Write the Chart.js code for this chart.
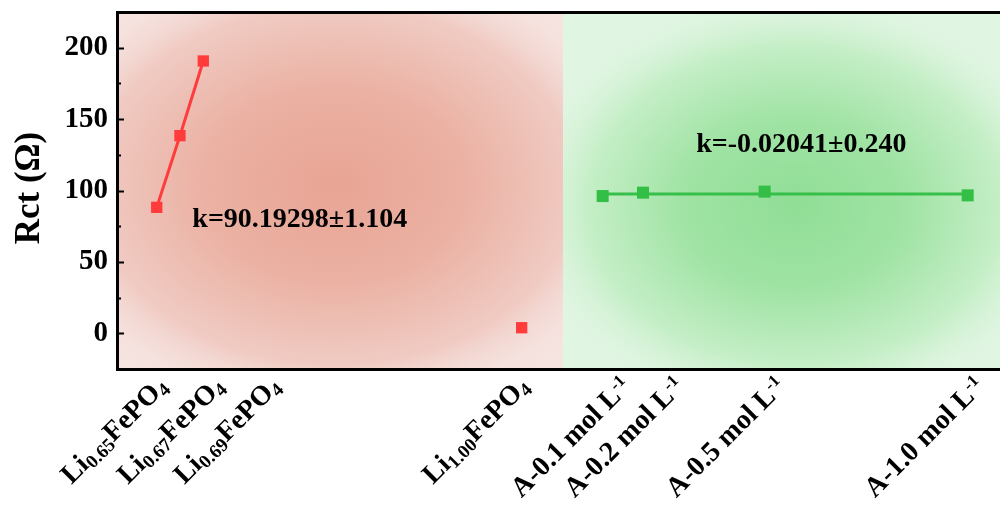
<!DOCTYPE html>
<html>
<head>
<meta charset="utf-8">
<script src="https://cdn.jsdelivr.net/npm/chart.js@4.4.1/dist/chart.umd.min.js"></script>
<style>
  html, body { margin: 0; padding: 0; background: #fff; overflow: hidden; }
  canvas { display: block; }
</style>
</head>
<body>
<canvas id="c" width="1000" height="506"></canvas>
<script>
// Sample names (with _{sub} and ^{sup} markup), where each name sits on the x axis,
// and where each measured sample is plotted
const sampleLabels = [
  'Li_{0.65}FePO_{4}', 'Li_{0.67}FePO_{4}', 'Li_{0.69}FePO_{4}', 'Li_{1.00}FePO_{4}',
  'A-0.1 mol L^{-1}', 'A-0.2 mol L^{-1}', 'A-0.5 mol L^{-1}', 'A-1.0 mol L^{-1}'
];
const labelX  = [4.3, 10.72, 17.1, 45.26, 56.8, 62.83, 74.33, 96.83];
const sampleX = [4.5, 7.13, 9.77, 45.83, 55.0, 59.57, 73.35, 96.34];

// Charge-transfer resistance, Ohm
const liRct = [88.2, 138.4, 190.7, 3.9];   // Li_xFePO4 samples
const aRct  = [96.1, 98.5, 99.2, 96.6];    // A-series samples
const aFitRct = [97.5, 97.5];              // linear fit across the A-series

const yTicks = [0, 50, 100, 150, 200];
const fitTexts = ['k=90.19298\u00b11.104', 'k=-0.02041\u00b10.240'];
const fitTextPos = [[20.7, 74.4], [77.5, 127]];   // [x, Rct] of each text's baseline centre
const regionSplitX = 50.5;                        // boundary between the two shaded regions

const SERIF = '"Liberation Serif", "Times New Roman", serif';

const pts = (xs, ys) => ys.map((y, i) => ({ x: xs[i], y }));
const liX = sampleX.slice(0, 4);
const aX = sampleX.slice(4);

function parseRich(s) {
  const runs = [];
  const re = /([_^])\{([^}]*)\}|([^_^]+)/g;
  let m;
  while ((m = re.exec(s))) {
    if (m[3]) runs.push({ t: m[3], k: 'n' });
    else runs.push({ t: m[2], k: m[1] === '_' ? 'sub' : 'sup' });
  }
  return runs;
}

function glow(ctx, cx, cy, sx, r, stops) {
  ctx.save();
  ctx.translate(cx, cy); ctx.scale(sx, 1);
  const g = ctx.createRadialGradient(0, 0, 0, 0, 0, r);
  stops.forEach(([o, c]) => g.addColorStop(o, c));
  ctx.fillStyle = g;
  ctx.fillRect(-600, -600, 1200, 1200);
  ctx.restore();
}

const decor = {
  id: 'decor',
  beforeDatasetsDraw(chart) {
    const { ctx, chartArea: a, scales: { x } } = chart;
    const split = x.getPixelForValue(regionSplitX);
    const h = a.bottom - a.top;
    // left (red) region
    ctx.save();
    ctx.beginPath(); ctx.rect(a.left, a.top, split - a.left, h); ctx.clip();
    ctx.fillStyle = 'rgb(246,228,225)';
    ctx.fillRect(a.left, a.top, split - a.left, h);
    glow(ctx, 335, 185, 1.35, 240, [
      [0, 'rgb(232,164,148)'], [0.4, 'rgb(235,177,163)'],
      [0.75, 'rgb(240,203,195)'], [1, 'rgba(246,228,225,0)']
    ]);
    ctx.restore();
    // right (green) region
    ctx.save();
    ctx.beginPath(); ctx.rect(split, a.top, a.right - split, h); ctx.clip();
    ctx.fillStyle = 'rgb(224,245,226)';
    ctx.fillRect(split, a.top, a.right - split, h);
    glow(ctx, 795, 205, 1.3, 215, [
      [0, 'rgb(144,222,150)'], [0.4, 'rgb(160,227,164)'],
      [0.75, 'rgb(198,239,200)'], [1, 'rgba(224,245,226,0)']
    ]);
    ctx.restore();
  },
  afterDraw(chart) {
    const { ctx, chartArea: a, scales: { x, y } } = chart;
    ctx.save();
    // frame: left, top and bottom edges
    ctx.strokeStyle = '#000';
    ctx.lineWidth = 3;
    ctx.beginPath();
    ctx.moveTo(a.right, a.top + 0.5); ctx.lineTo(a.left + 0.5, a.top + 0.5);
    ctx.lineTo(a.left + 0.5, a.bottom + 0.5); ctx.lineTo(a.right, a.bottom + 0.5);
    ctx.stroke();
    // inward y ticks, major every 50 and minor every 25
    for (let v = 0; v <= 225; v += 25) {
      const py = Math.round(y.getPixelForValue(v)) + 0.5;
      const major = v % 50 === 0;
      ctx.lineWidth = 2;
      ctx.beginPath(); ctx.moveTo(a.left, py); ctx.lineTo(a.left + (major ? 7 : 4), py); ctx.stroke();
    }

    // fit texts
    ctx.fillStyle = '#000';
    ctx.font = 'bold 28px ' + SERIF;
    ctx.textAlign = 'center'; ctx.textBaseline = 'alphabetic';
    fitTexts.forEach((t, i) => {
      ctx.fillText(t, x.getPixelForValue(fitTextPos[i][0]), y.getPixelForValue(fitTextPos[i][1]));
    });

    // y axis title
    ctx.save();
    ctx.translate(39, 188); ctx.rotate(-Math.PI / 2);
    ctx.font = 'bold 35px ' + SERIF;
    ctx.textAlign = 'center'; ctx.textBaseline = 'alphabetic';
    ctx.fillText('Rct (\u03a9)', 0, 0);
    ctx.restore();

    // rotated sample labels with sub/superscripts
    const F = 28;
    sampleLabels.forEach((lab, i) => {
      const runs = parseRich(lab);
      const px = x.getPixelForValue(labelX[i]);
      ctx.save();
      ctx.translate(px + 7, a.bottom + 12);
      ctx.rotate(-Math.PI / 4);
      ctx.textAlign = 'left'; ctx.textBaseline = 'alphabetic';
      let total = 0;
      runs.forEach(r => {
        r.size = r.k === 'n' ? F : Math.round(F * (r.k === 'sub' ? 0.68 : 0.62));
        ctx.font = 'bold ' + r.size + 'px ' + SERIF;
        r.w = ctx.measureText(r.t).width;
        total += r.w;
      });
      let cx = -total;
      const base = F * 0.34;
      runs.forEach(r => {
        ctx.font = 'bold ' + r.size + 'px ' + SERIF;
        const dy = r.k === 'sub' ? F * 0.15 : r.k === 'sup' ? -F * 0.32 : 0;
        ctx.fillText(r.t, cx, base + dy);
        cx += r.w;
      });
      ctx.restore();
    });
    ctx.restore();
  }
};

new Chart(document.getElementById('c'), {
  type: 'scatter',
  data: {
    datasets: [
      { // Li0.65 - Li0.69 trend
        data: pts(liX.slice(0, 3), liRct.slice(0, 3)),
        showLine: true, borderColor: '#ff3b3b', borderWidth: 3,
        pointStyle: 'rect', pointRadius: 8, pointBackgroundColor: '#ff3b3b',
        pointBorderWidth: 0, order: 2
      },
      { // Li1.00
        data: pts(liX.slice(3), liRct.slice(3)),
        showLine: false,
        pointStyle: 'rect', pointRadius: 8, pointBackgroundColor: '#ff3b3b',
        pointBorderWidth: 0, order: 2
      },
      { // linear fit over the A-series
        data: pts([aX[0], aX[aX.length - 1]], aFitRct),
        showLine: true, borderColor: '#36c049', borderWidth: 3,
        pointRadius: 0, order: 3
      },
      { // A-series
        data: pts(aX, aRct),
        showLine: false,
        pointStyle: 'rect', pointRadius: 8.5, pointBackgroundColor: '#33be45',
        pointBorderWidth: 0, order: 1
      }
    ]
  },
  options: {
    responsive: false,
    animation: false,
    devicePixelRatio: 1,
    layout: { autoPadding: false, padding: { top: 12, left: 0, right: 0, bottom: 0 } },
    plugins: { legend: { display: false }, tooltip: { enabled: false } },
    scales: {
      x: {
        type: 'linear', min: 0, max: 100,
        grid: { display: false, drawTicks: false },
        border: { display: false },
        ticks: { display: false },
        afterFit(s) { s.height = 137; s.paddingLeft = 0; s.paddingRight = 0; }
      },
      y: {
        type: 'linear', min: -25, max: 225,
        grid: { display: false, drawTicks: false },
        border: { display: false },
        afterBuildTicks(s) { s.ticks = yTicks.map(v => ({ value: v })); },
        ticks: {
          padding: 9, color: '#000',
          font: { family: SERIF, size: 29, weight: 'bold' }
        },
        afterFit(s) { s.width = 117; s.paddingTop = 0; s.paddingBottom = 0; }
      }
    }
  },
  plugins: [decor]
});
</script>
</body>
</html>
